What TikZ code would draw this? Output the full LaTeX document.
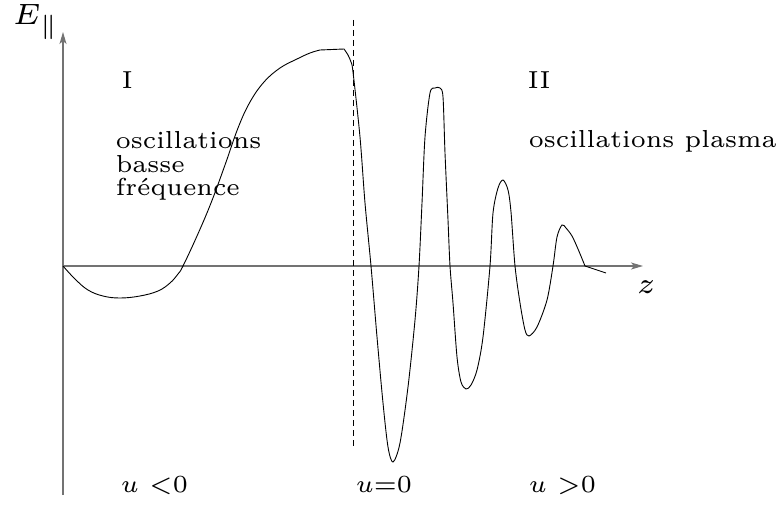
\documentclass[tikz,border=0pt]{standalone}
\usetikzlibrary{arrows.meta}
\begin{document}
\begin{tikzpicture}[x=1pt,y=-1pt,
  axis/.style={draw=black!55, line width=1.1pt, -{Stealth[length=12pt,width=7pt,inset=3pt]}},
  curve/.style={draw=black, line width=0.9pt},
  guide/.style={draw=black, line width=0.8pt, dash pattern=on 6pt off 4pt},
  txt/.style={inner sep=0pt, scale=4.1, font=\fontsize{6}{5.73}\selectfont},
  bigtxt/.style={inner sep=0pt, scale=4.9, font=\fontsize{6}{7}\selectfont}]
\useasboundingbox (0,0) rectangle (784,505);
\coordinate (O) at (63,266);
\coordinate (ytop) at (63,32);
\coordinate (ybot) at (63,495);
\coordinate (xend) at (643,266);
\coordinate (dtop) at (353,20);
\coordinate (dbot) at (353,446);
\coordinate (tail) at (606,273);
\draw[axis] (ybot) -- (ytop);
\draw[axis] (O) -- (xend);
\draw[guide] (dtop) -- (dbot);
\draw[curve] plot[smooth, tension=0.65] coordinates {(63,266) (75,279) (88,290) (103,296) (120,298) (140,296) (158,291) (170,283) (178,274) (183,266) (197,236) (211,203) (225,165) (238,128) (250,102) (264,82) (280,68) (297,59) (310,53) (320,50)}
 -- plot[smooth, tension=0.5] coordinates {(344,49) (348,55) (351,62) (353,72) (360,137) (365,203) (371,266) (377,337) (383,403) (388,447) (393,462) (400,443) (408,387) (415,320) (419,266) (422,203) (425,137) (430,93) (435,88) (440,88) (443,97) (445,153) (448,220) (450,266) (453,303) (457,357) (461,382) (466,389) (471,385) (477,370) (483,337) (490,266) (493,213) (498,188) (503,180) (508,190) (511,212) (515,266) (520,303) (525,330) (529,336) (537,327) (547,300) (553,266) (557,237) (562,225) (566,228) (572,236) (578,249) (585,266)}
 -- (tail);
\node[bigtxt, anchor=base west] (E) at (12,25) {$E_{\parallel}$};
\node[bigtxt, anchor=base west] (z) at (636,293) {$z$};
\node[txt, anchor=base west] (I) at (121,89) {I};
\node[txt, anchor=base west] (II) at (527,89) {II};
\node[txt, anchor=north west, align=left] (bf) at (115,131) {oscillations\\basse\\fréquence};
\node[txt, anchor=base west] (pl) at (528,148) {oscillations plasma};
\node[txt, anchor=base west] (uneg) at (120,492) {$u$ $<$0};
\node[txt, anchor=base west] (uzero) at (355,492) {$u$=0};
\node[txt, anchor=base west] (upos) at (528,492) {$u$ $>$0};
\end{tikzpicture}
\end{document}
